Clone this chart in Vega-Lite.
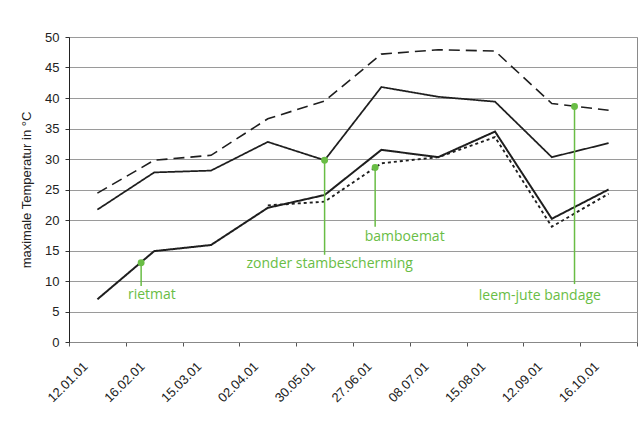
{
  "$schema": "https://vega.github.io/schema/vega-lite/v6.json",
  "width": 568,
  "height": 305,
  "autosize": "none",
  "padding": {"left": 69, "top": 37, "right": 1, "bottom": 79},
  "background": "white",
  "config": {
    "font": "Liberation Sans",
    "view": {"stroke": "#8a8a8a", "strokeWidth": 1},
    "axisY": {
      "titleFontSize": 13, "titleFontWeight": "normal", "titleColor": "#222", "titlePadding": 11,
      "labelFontSize": 13, "labelColor": "#222", "tickCount": 10, "tickSize": 4, "tickColor": "#333",
      "labelPadding": 6, "domainColor": "#222", "grid": true, "gridColor": "#9a9a9a", "gridWidth": 1
    }
  },
  "datasets": {
    "temps": [
      {"datum": "12.01.01", "serie": "rietmat", "temp": 7.0},
      {"datum": "16.02.01", "serie": "rietmat", "temp": 14.9},
      {"datum": "15.03.01", "serie": "rietmat", "temp": 15.9},
      {"datum": "02.04.01", "serie": "rietmat", "temp": 22.0},
      {"datum": "30.05.01", "serie": "rietmat", "temp": 24.1},
      {"datum": "27.06.01", "serie": "rietmat", "temp": 31.5},
      {"datum": "08.07.01", "serie": "rietmat", "temp": 30.3},
      {"datum": "15.08.01", "serie": "rietmat", "temp": 34.5},
      {"datum": "12.09.01", "serie": "rietmat", "temp": 20.2},
      {"datum": "16.10.01", "serie": "rietmat", "temp": 25.0},
      {"datum": "02.04.01", "serie": "bamboemat", "temp": 22.4},
      {"datum": "30.05.01", "serie": "bamboemat", "temp": 23.0},
      {"datum": "27.06.01", "serie": "bamboemat", "temp": 29.3},
      {"datum": "08.07.01", "serie": "bamboemat", "temp": 30.3},
      {"datum": "15.08.01", "serie": "bamboemat", "temp": 33.6},
      {"datum": "12.09.01", "serie": "bamboemat", "temp": 18.9},
      {"datum": "16.10.01", "serie": "bamboemat", "temp": 24.3},
      {"datum": "12.01.01", "serie": "zonder stambescherming", "temp": 21.7},
      {"datum": "16.02.01", "serie": "zonder stambescherming", "temp": 27.8},
      {"datum": "15.03.01", "serie": "zonder stambescherming", "temp": 28.1},
      {"datum": "02.04.01", "serie": "zonder stambescherming", "temp": 32.8},
      {"datum": "30.05.01", "serie": "zonder stambescherming", "temp": 29.8},
      {"datum": "27.06.01", "serie": "zonder stambescherming", "temp": 41.8},
      {"datum": "08.07.01", "serie": "zonder stambescherming", "temp": 40.2},
      {"datum": "15.08.01", "serie": "zonder stambescherming", "temp": 39.4},
      {"datum": "12.09.01", "serie": "zonder stambescherming", "temp": 30.3},
      {"datum": "16.10.01", "serie": "zonder stambescherming", "temp": 32.6},
      {"datum": "12.01.01", "serie": "leem-jute bandage", "temp": 24.4},
      {"datum": "16.02.01", "serie": "leem-jute bandage", "temp": 29.8},
      {"datum": "15.03.01", "serie": "leem-jute bandage", "temp": 30.6},
      {"datum": "02.04.01", "serie": "leem-jute bandage", "temp": 36.6},
      {"datum": "30.05.01", "serie": "leem-jute bandage", "temp": 39.5},
      {"datum": "27.06.01", "serie": "leem-jute bandage", "temp": 47.2},
      {"datum": "08.07.01", "serie": "leem-jute bandage", "temp": 47.9},
      {"datum": "15.08.01", "serie": "leem-jute bandage", "temp": 47.7},
      {"datum": "12.09.01", "serie": "leem-jute bandage", "temp": 39.1},
      {"datum": "16.10.01", "serie": "leem-jute bandage", "temp": 38.0}
    ],
    "notes": [
      {"label": "rietmat", "pos": 0.77, "dot": 13.0, "end": 9.2, "textPos": 0.96, "textY": 7.0},
      {"label": "zonder stambescherming", "pos": 4.0, "dot": 29.8, "end": 14.3, "textPos": 4.09, "textY": 12.1},
      {"label": "bamboemat", "pos": 4.89, "dot": 28.6, "end": 18.9, "textPos": 5.41, "textY": 16.6},
      {"label": "leem-jute bandage", "pos": 8.4, "dot": 38.6, "end": 9.5, "textPos": 7.79, "textY": 6.9}
    ]
  },
  "resolve": {"scale": {"x": "independent"}},
  "layer": [
    {
      "data": {"name": "temps"},
      "mark": {"type": "line", "color": "#1e1e1e", "strokeJoin": "miter"},
      "encoding": {
        "x": {
          "field": "datum", "type": "ordinal", "sort": null, "bandPosition": 0.5,
          "scale": {"type": "band", "paddingInner": 0, "paddingOuter": 0},
          "axis": {
            "title": null, "labelAngle": -45, "labelAlign": "right", "labelBaseline": "middle",
            "labelFontSize": 13, "labelColor": "#222", "tickBand": "extent", "tickSize": 4,
            "tickColor": "#555", "labelPadding": 18, "labelOffset": -12, "domainColor": "#888", "grid": false
          }
        },
        "y": {
          "field": "temp", "type": "quantitative",
          "scale": {"domain": [0, 50], "nice": false},
          "axis": {"title": "maximale Temperatur in °C"}
        },
        "detail": {"field": "serie"},
        "strokeDash": {
          "field": "serie", "type": "nominal",
          "scale": {"domain": ["rietmat", "bamboemat", "zonder stambescherming", "leem-jute bandage"], "range": [[1, 0], [3, 3], [1, 0], [11, 6]]},
          "legend": null
        },
        "strokeWidth": {
          "field": "serie", "type": "nominal",
          "scale": {"domain": ["rietmat", "bamboemat", "zonder stambescherming", "leem-jute bandage"], "range": [2, 1.6, 1.1, 1.8]},
          "legend": null
        }
      }
    },
    {
      "data": {"name": "notes"},
      "mark": {"type": "rule", "color": "#69bd45", "strokeWidth": 1.5},
      "encoding": {
        "x": {"field": "pos", "type": "quantitative", "scale": {"domain": [-0.5, 9.5], "nice": false, "zero": false}, "axis": null},
        "y": {"field": "dot", "type": "quantitative"},
        "y2": {"field": "end"}
      }
    },
    {
      "data": {"name": "notes"},
      "mark": {"type": "point", "filled": true, "color": "#69bd45", "opacity": 1, "size": 48},
      "encoding": {
        "x": {"field": "pos", "type": "quantitative", "scale": {"domain": [-0.5, 9.5], "nice": false, "zero": false}, "axis": null},
        "y": {"field": "dot", "type": "quantitative"}
      }
    },
    {
      "data": {"name": "notes"},
      "mark": {"type": "text", "color": "#69bd45", "font": "Open Sans", "fontSize": 14, "align": "center", "baseline": "alphabetic"},
      "encoding": {
        "x": {"field": "textPos", "type": "quantitative", "scale": {"domain": [-0.5, 9.5], "nice": false, "zero": false}, "axis": null},
        "y": {"field": "textY", "type": "quantitative"},
        "text": {"field": "label"}
      }
    }
  ]
}
